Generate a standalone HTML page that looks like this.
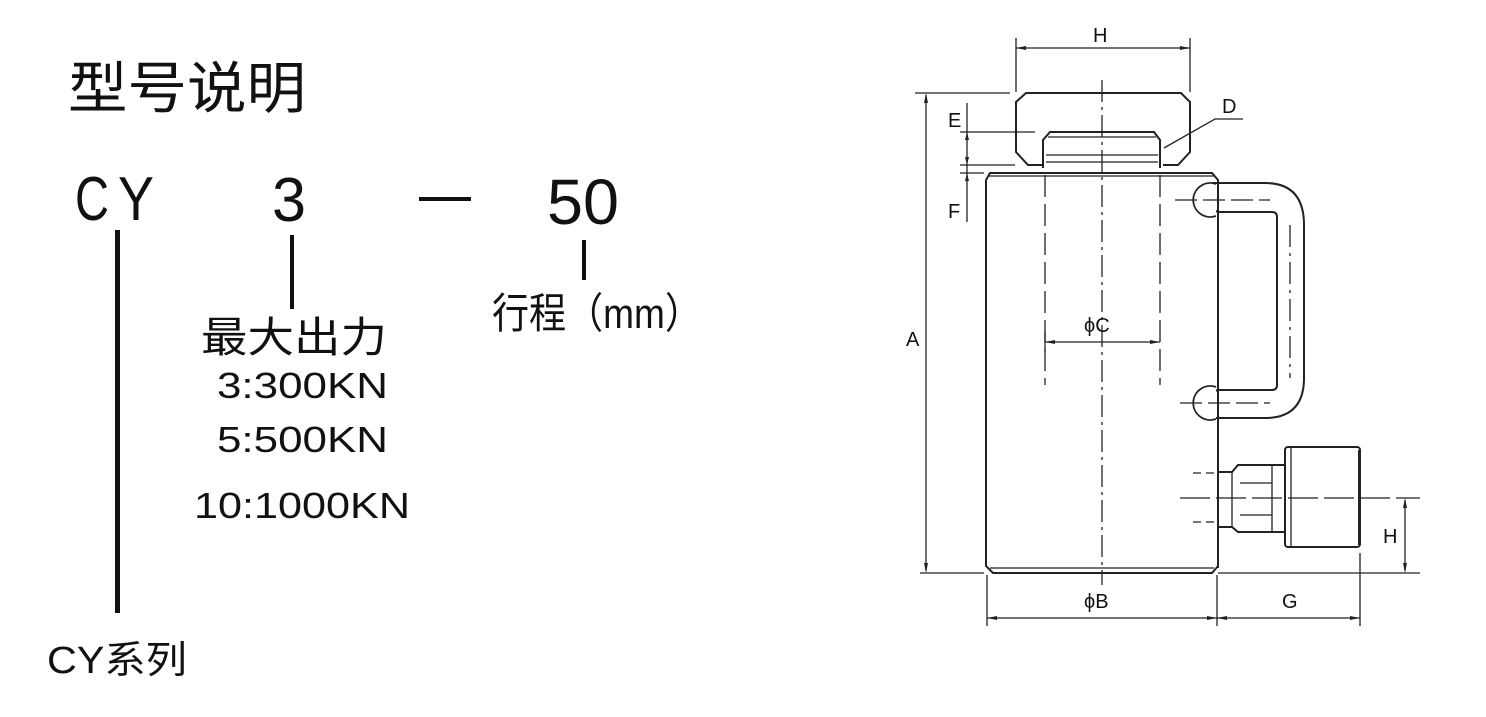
<!DOCTYPE html>
<html><head><meta charset="utf-8"><style>
html,body{margin:0;padding:0;background:#fff;}
svg{display:block}
.t{font-family:"Liberation Sans","Noto Sans CJK SC",sans-serif;fill:#111;}
</style></head><body>
<svg width="1486" height="717" viewBox="0 0 1486 717" xmlns="http://www.w3.org/2000/svg">
<text class="t" x="68" y="108" font-size="56" textLength="238" lengthAdjust="spacingAndGlyphs">型号说明</text>
<text class="t" x="75" y="220" font-size="62" textLength="34" lengthAdjust="spacingAndGlyphs">C</text>
<text class="t" x="118" y="220" font-size="62" textLength="36" lengthAdjust="spacingAndGlyphs">Y</text>
<text class="t" x="272" y="221" font-size="62" textLength="34" lengthAdjust="spacingAndGlyphs">3</text>
<rect x="419" y="197" width="52" height="4" fill="#111"/>
<text class="t" x="547" y="224" font-size="64" textLength="72" lengthAdjust="spacingAndGlyphs">50</text>
<rect x="115" y="230" width="5" height="383" fill="#111"/>
<rect x="290" y="235" width="4" height="74" fill="#111"/>
<rect x="582" y="240" width="4" height="40" fill="#111"/>
<text class="t" x="492" y="328" font-size="42" textLength="210" lengthAdjust="spacingAndGlyphs">行程（mm）</text>
<text class="t" x="201" y="352" font-size="42" textLength="186" lengthAdjust="spacingAndGlyphs">最大出力</text>
<text class="t" x="217" y="398" font-size="36" textLength="171" lengthAdjust="spacingAndGlyphs">3:300KN</text>
<text class="t" x="217" y="452" font-size="36" textLength="171" lengthAdjust="spacingAndGlyphs">5:500KN</text>
<text class="t" x="194" y="518" font-size="36" textLength="216" lengthAdjust="spacingAndGlyphs">10:1000KN</text>
<text class="t" x="47" y="673" font-size="38" textLength="140" lengthAdjust="spacingAndGlyphs">CY系列</text>

<g fill="none" stroke="#222" stroke-width="1.3">
 <line x1="1016" y1="38" x2="1016" y2="92"/>
 <line x1="1190" y1="38" x2="1190" y2="92"/>
 <line x1="1016" y1="48" x2="1190" y2="48"/>
 <line x1="915" y1="93" x2="1010" y2="93"/>
 <line x1="926" y1="95" x2="926" y2="571"/>
 <line x1="920" y1="573" x2="984" y2="573"/>
 <line x1="967" y1="103" x2="967" y2="222"/>
 <line x1="960" y1="132" x2="1035" y2="132"/>
 <line x1="960" y1="165" x2="1015" y2="165"/>
 <line x1="960" y1="173" x2="984" y2="173"/>
 <path d="M1043 165 L1028 165 L1016 152 L1016 102 L1026 93 L1181 93 L1190 102 L1190 152 L1178 165 L1163 165" stroke-width="2"/>
 <path d="M1043 168 L1043 140 L1050 132 L1154 132 L1160 140 L1160 168" stroke-width="2"/>
 <line x1="1048" y1="137" x2="1156" y2="137"/>
 <line x1="1046" y1="155" x2="1158" y2="155"/>
 <line x1="1046" y1="162" x2="1158" y2="162"/>
 <polyline points="1243,119 1215,119 1164,148"/>
 <path d="M986 180 L990 173 L1212 173 L1218 180 L1218 566 L1212 573 L993 573 L986 566 Z" stroke-width="2"/>
 <line x1="988" y1="176" x2="1214" y2="176"/>
 <line x1="990" y1="568" x2="1214" y2="568"/>
 <line x1="1102" y1="80" x2="1102" y2="585" stroke-dasharray="22,5,3,5"/>
 <line x1="1045" y1="175" x2="1045" y2="385" stroke-dasharray="22,7"/>
 <line x1="1160" y1="175" x2="1160" y2="385" stroke-dasharray="22,7"/>
 <line x1="1045" y1="332" x2="1045" y2="352"/>
 <line x1="1045" y1="342" x2="1160" y2="342"/>
 <path d="M1213 183 L1265 183 Q1304 183 1304 225 L1304 378 Q1304 418 1265 418 L1213 418 Q1205 410 1208 400 Q1212 391 1218 390 L1272 390 Q1277 390 1277 385 L1277 217 Q1277 212 1272 212 L1218 212 Q1208 208 1208 198 Q1208 188 1213 183 Z" fill="#fff" stroke-width="2"/>
 <path d="M1216 184 A17 17 0 1 0 1216 216" fill="#fff" stroke-width="1.8"/>
 <path d="M1216 387 A17 17 0 1 0 1216 419" fill="#fff" stroke-width="1.8"/>
 <line x1="1290" y1="225" x2="1290" y2="378" stroke-dasharray="22,6,3,6"/>
 <line x1="1175" y1="200" x2="1270" y2="200" stroke-dasharray="22,6"/>
 <line x1="1180" y1="403" x2="1270" y2="403" stroke-dasharray="22,6"/>
 <rect x="1217" y="180" width="2" height="388" fill="#222" stroke="none"/>
 <path d="M1218 472 L1232 472 L1238 465 L1285 465 L1285 532 L1238 532 L1232 527 L1218 527" stroke-width="2"/>
 <line x1="1232" y1="472" x2="1232" y2="527"/>
 <line x1="1240" y1="483" x2="1272" y2="483"/>
 <line x1="1240" y1="515" x2="1272" y2="515"/>
 <line x1="1272" y1="465" x2="1272" y2="532"/>
 <rect x="1285" y="447" width="75" height="100" rx="3" stroke-width="2"/>
 <line x1="1291" y1="447" x2="1291" y2="547"/>
 <rect x="1358" y="450" width="3" height="95" fill="#222" stroke="none"/>
 <line x1="1193" y1="473" x2="1218" y2="473" stroke-dasharray="8,5"/>
 <line x1="1193" y1="522" x2="1218" y2="522" stroke-dasharray="8,5"/>
 <line x1="1180" y1="498" x2="1420" y2="498" stroke-dasharray="30,6"/>
 <line x1="1405" y1="500" x2="1405" y2="571"/>
 <line x1="1218" y1="573" x2="1420" y2="573"/>
 <line x1="987" y1="575" x2="987" y2="626"/>
 <line x1="1217" y1="575" x2="1217" y2="626"/>
 <line x1="1360" y1="553" x2="1360" y2="626"/>
 <line x1="987" y1="618" x2="1360" y2="618"/>
</g>
<g fill="#222">
 <path d="M1016 48 l10 -2 l0 4z M1190 48 l-10 -2 l0 4z"/>
 <path d="M926 93 l-2 10 l4 0z M926 573 l-2 -10 l4 0z"/>
 <path d="M967 132 l-2 8 l4 0z M967 165 l-2 -8 l4 0z M967 173 l-2 8 l4 0z"/>
 <path d="M1045 342 l10 -2 l0 4z M1160 342 l-10 -2 l0 4z"/>
 <path d="M1405 498 l-2 10 l4 0z M1405 573 l-2 -10 l4 0z"/>
 <path d="M987 618 l10 -2 l0 4z M1217 618 l-10 -2 l0 4z M1217 618 l10 -2 l0 4z M1360 618 l-10 -2 l0 4z"/>
</g>
<g class="t" font-size="20">
 <text x="1093" y="42">H</text>
 <text x="948" y="127">E</text>
 <text x="948" y="218">F</text>
 <text x="1222" y="113">D</text>
 <text x="906" y="346">A</text>
 <text x="1084" y="332">ϕC</text>
 <text x="1383" y="543">H</text>
 <text x="1084" y="608">ϕB</text>
 <text x="1282" y="608">G</text>
</g>
</svg>
</body></html>
